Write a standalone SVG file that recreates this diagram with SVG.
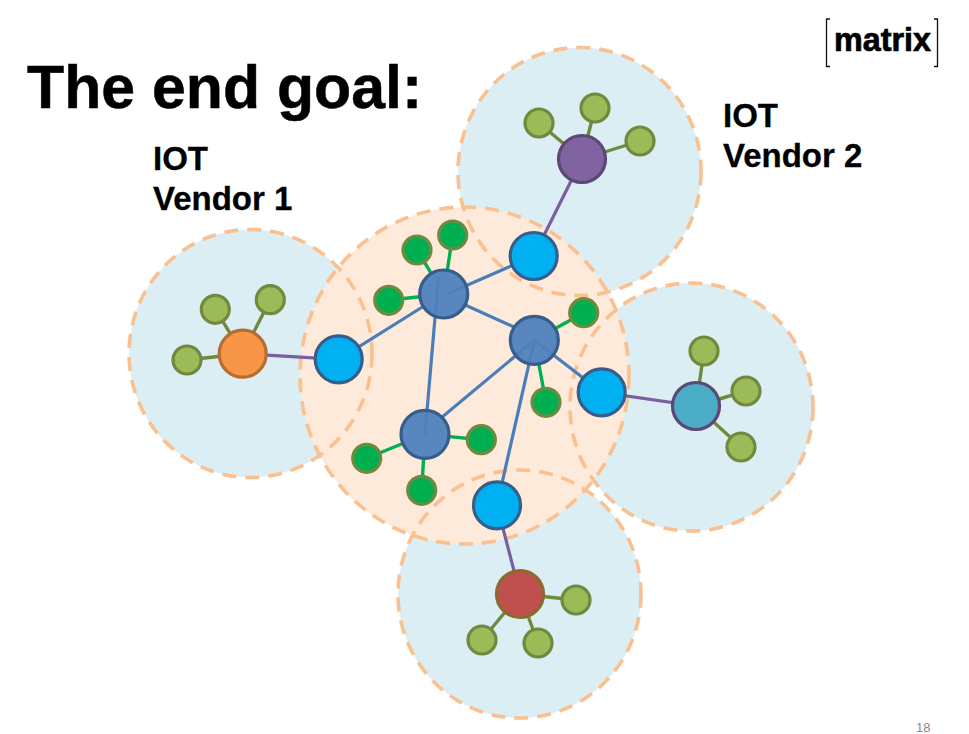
<svg xmlns="http://www.w3.org/2000/svg" width="969" height="734" viewBox="0 0 969 734">
<style>
text{font-family:"Liberation Sans",Arial,sans-serif;fill:#000}
.b{font-weight:bold}
.lab{font-size:33px;font-weight:bold;stroke:#000;stroke-width:.3}
.vf{fill:#dbeef4;stroke:none}
.cf{fill:#fdeada;stroke:none}
.dash{fill:none;stroke:#fac090;stroke-width:3.6;stroke-dasharray:14 9}
.l{fill:none;stroke-width:3.2}
.lb{stroke:#4a7ebb}.lp{stroke:#7b5ea0}.lg{stroke:#00b050;stroke-width:3.4}.lo{stroke:#71893f;stroke-width:3.4}
.n{stroke-width:3.2}
.hub{fill:#4f81bd;fill-opacity:.95;stroke:#385d8a}
.blue{fill:#00b0f0;stroke:#385d8a}
.g{fill:#00b050;stroke:#71893f}
.o{fill:#9bbb59;stroke:#71893f}
</style>
<g id="regions">
<ellipse class="vf" cx="250.500" cy="353.500" rx="121.500" ry="124"/>
<ellipse class="vf" cx="579.500" cy="171.500" rx="121.500" ry="124"/>
<ellipse class="vf" cx="691.500" cy="407" rx="121.500" ry="124"/>
<ellipse class="vf" cx="519.500" cy="594" rx="121.500" ry="124"/>
<ellipse class="cf" cx="464.500" cy="375.500" rx="164.500" ry="168.500"/>
<ellipse class="dash" cx="464.500" cy="375.500" rx="164.500" ry="168.500"/>
<ellipse class="dash" cx="250.500" cy="353.500" rx="121.500" ry="124"/>
<ellipse class="dash" cx="579.500" cy="171.500" rx="121.500" ry="124"/>
<ellipse class="dash" cx="691.500" cy="407" rx="121.500" ry="124"/>
<ellipse class="dash" cx="519.500" cy="594" rx="121.500" ry="124"/>
</g>
<g id="connectors" class="l">
<path class="lb" d="M533.700 256L447 294M338.700 359.300L424 306M438.500 277L425 434M463 304L514 327M534.300 340.300L441 418M534.300 340.300L601.700 392.300M534.300 340.300L497 505.300"/>
<path class="lp" d="M582 159L533.700 256M242.700 353.700L338.700 359.300M601.700 392.300L696 406M497 505.300L520 594"/>
<path class="lg" d="M432.300 275.200L417 250M447 272.300L452.700 235M421.800 296.500L388.700 300.300M553.500 329.600L583.700 312.700M538.400 361.900L546 402.300M446.900 436.400L481.300 439.700M404.600 442.700L366.700 458.300M423.700 456.300L421.700 490.300"/>
<path class="lo" d="M242.700 353.700L215.300 309.300M242.700 353.700L270.300 299.700M242.700 353.700L187 360M582 159L539 123M582 159L595 108M582 159L640 141M696 406L704 351M696 406L746 391M696 406L741 447M520 594L576 600M520 594L538 643M520 594L482 640"/>
</g>
<g id="hub-a"><circle class="n hub" cx="443.700" cy="294" r="24"/></g>
<g id="hub-b"><circle class="n hub" cx="534.300" cy="340.300" r="24"/></g>
<g id="hub-c"><circle class="n hub" cx="425" cy="434.300" r="24"/></g>
<g id="bridge-top"><circle class="n blue" cx="533.700" cy="256" r="23.500"/></g>
<g id="bridge-left"><circle class="n blue" cx="338.700" cy="359.300" r="23.500"/></g>
<g id="bridge-right"><circle class="n blue" cx="601.700" cy="392.300" r="23.500"/></g>
<g id="bridge-bottom"><circle class="n blue" cx="497" cy="505.300" r="23.500"/></g>
<g id="green-nodes">
<circle class="n g" cx="417" cy="250" r="14"/><circle class="n g" cx="452.700" cy="235" r="14"/><circle class="n g" cx="388.700" cy="300.300" r="14"/><circle class="n g" cx="583.700" cy="312.700" r="14"/><circle class="n g" cx="546" cy="402.300" r="14"/><circle class="n g" cx="481.300" cy="439.700" r="14"/><circle class="n g" cx="366.700" cy="458.300" r="14"/><circle class="n g" cx="421.700" cy="490.300" r="14"/>
</g>
<g id="vendor1-hub"><circle class="n" fill="#f79646" stroke="#b66d31" cx="242.700" cy="353.700" r="23.500"/></g>
<g id="vendor2-hub"><circle class="n" fill="#8064a2" stroke="#5c4776" cx="582" cy="159" r="23.500"/></g>
<g id="vendor3-hub"><circle class="n" fill="#4bacc6" stroke="#5c4776" cx="696" cy="406" r="23.500"/></g>
<g id="vendor4-hub"><circle class="n" fill="#c0504d" stroke="#8c6a2f" cx="520" cy="594" r="23.500"/></g>
<g id="olive-nodes">
<circle class="n o" cx="215.300" cy="309.300" r="14"/><circle class="n o" cx="270.300" cy="299.700" r="14"/><circle class="n o" cx="187" cy="360" r="14"/>
<circle class="n o" cx="539" cy="123" r="14"/><circle class="n o" cx="595" cy="108" r="14"/><circle class="n o" cx="640" cy="141" r="14"/>
<circle class="n o" cx="704" cy="351" r="14"/><circle class="n o" cx="746" cy="391" r="14"/><circle class="n o" cx="741" cy="447" r="14"/>
<circle class="n o" cx="576" cy="600" r="14"/><circle class="n o" cx="538" cy="643" r="14"/><circle class="n o" cx="482" cy="640" r="14"/>
</g>
<g id="labels">
<text class="b" x="27" y="108" font-size="60.800" style="stroke:#000;stroke-width:.5">The end goal:</text>
<text class="lab" x="153" y="170">IOT</text>
<text class="lab" x="153" y="210">Vendor 1</text>
<text class="lab" x="723" y="127">IOT</text>
<text class="lab" x="723" y="167">Vendor 2</text>
<text x="916" y="732" font-size="13" style="fill:#8a8a8a">18</text>
</g>
<g id="logo">
<path d="M830 19H826.500V66.500H830M934 19H937.500V66.500H934" fill="none" stroke="#111" stroke-width="1.300"/>
<text class="b" x="834" y="51" font-size="33" textLength="97" lengthAdjust="spacingAndGlyphs" style="stroke:#000;stroke-width:.7">matrix</text>
</g>
</svg>
